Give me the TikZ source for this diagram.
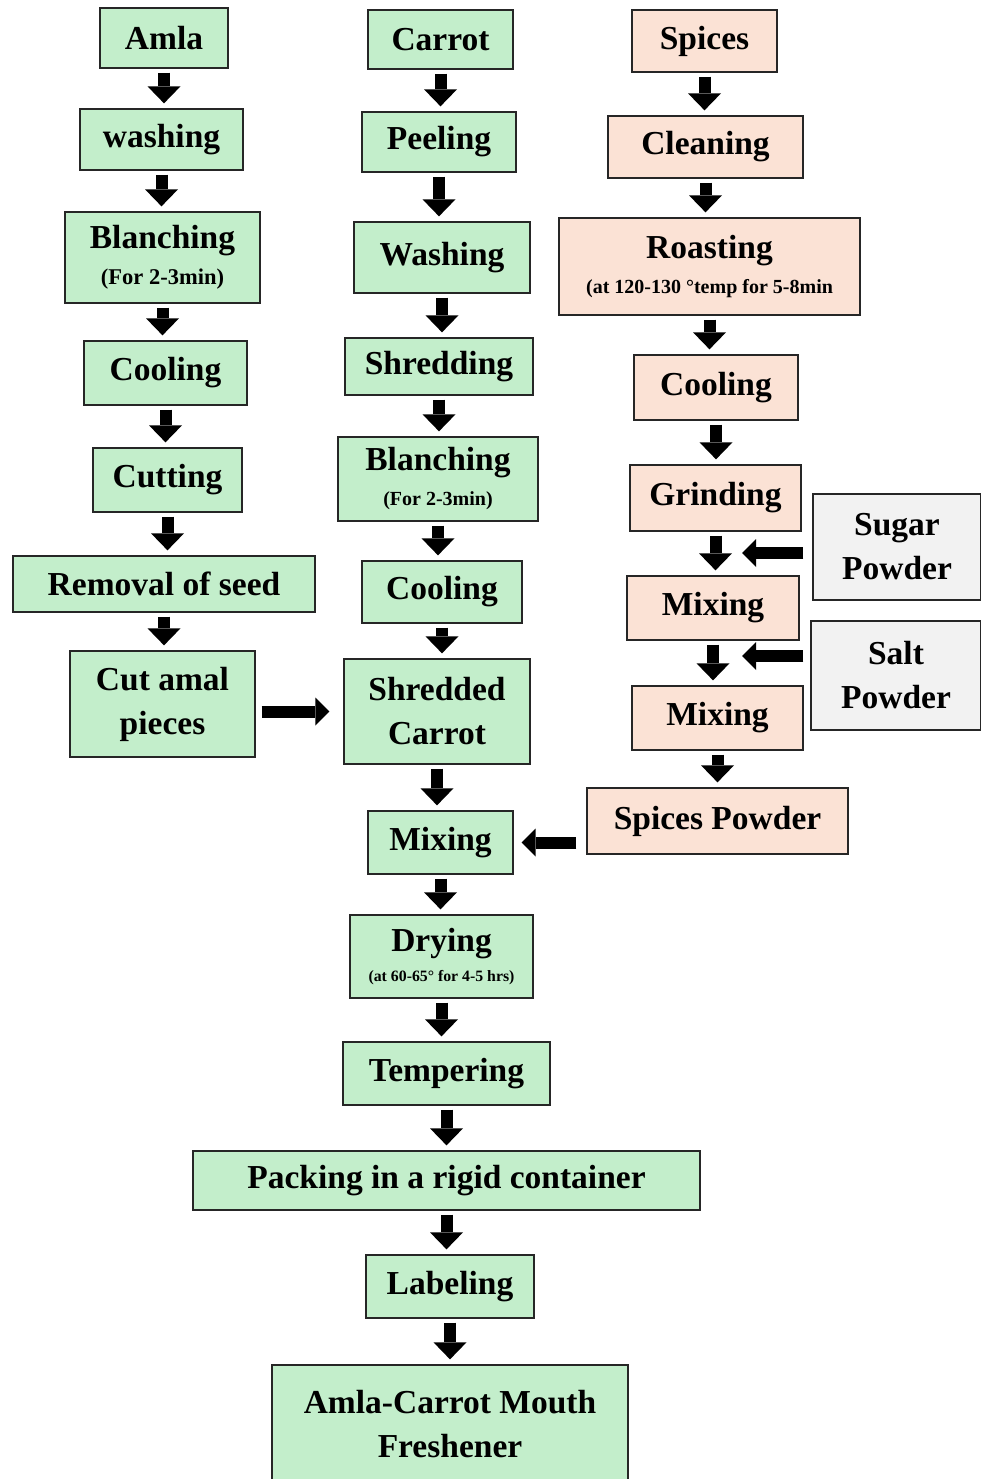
\documentclass[tikz,border=0pt]{standalone}
\usepackage{fontspec}
\setmainfont{Liberation Serif}
\usetikzlibrary{arrows.meta}
\definecolor{gfill}{HTML}{C3EECB}
\definecolor{pfill}{HTML}{FBE2D5}
\definecolor{sfill}{HTML}{F2F2F2}
\begin{document}
\begin{tikzpicture}[x=1pt,y=-1pt,
  box/.style={draw=black!85,line width=1.3pt,inner sep=0pt,align=center,
    font=\bfseries\fontsize{33.5}{44}\selectfont},
  gbox/.style={box,fill=gfill},
  pbox/.style={box,fill=pfill},
  sbox/.style={box,fill=sfill},
  barrow/.style={line width=12pt,-{Triangle[width=33pt,length=17pt,line width=0pt]},
    shorten <=4pt,shorten >=5pt},
  harrow/.style={line width=12pt,-{Triangle[width=28pt,length=14pt,line width=0pt]}}]
\useasboundingbox (0,0) rectangle (981,1479);
\fill[white] (0,0) rectangle (981,1479);
% left column
\node[gbox,minimum width=128,minimum height=60] (amla) at (164,38) {Amla};
\node[gbox,minimum width=163,minimum height=61] (wash1) at (161.5,139.5) {washing};
\node[gbox,minimum width=195,minimum height=91,font=\bfseries\fontsize{33.5}{36}\selectfont] (blanch1) at (162.5,257.5) {Blanching\\{\fontsize{22.5}{24}\selectfont (For 2-3min)}};
\node[gbox,minimum width=163,minimum height=64] (cool1) at (165.5,373) {Cooling};
\node[gbox,minimum width=149,minimum height=64] (cut) at (167.5,480) {Cutting};
\node[gbox,minimum width=302,minimum height=56] (seed) at (164,584) {Removal of seed};
\node[gbox,minimum width=185,minimum height=106] (pieces) at (162.5,704) {Cut amal\\pieces};
% middle column
\node[gbox,minimum width=145,minimum height=59] (carrot) at (440.5,39.5) {Carrot};
\node[gbox,minimum width=154,minimum height=60] (peel) at (439,142) {Peeling};
\node[gbox,minimum width=176,minimum height=71] (wash2) at (442,257.5) {Washing};
\node[gbox,minimum width=188,minimum height=57] (shred) at (439,366.5) {Shredding};
\node[gbox,minimum width=200,minimum height=84,font=\bfseries\fontsize{33.5}{35}\selectfont] (blanch2) at (438,479) {Blanching\\{\fontsize{20}{22}\selectfont (For 2-3min)}};
\node[gbox,minimum width=160,minimum height=62] (cool2) at (442,592) {Cooling};
\node[gbox,minimum width=186,minimum height=105] (shc) at (437,711.5) {Shredded\\Carrot};
\node[gbox,minimum width=145,minimum height=63] (mix) at (440.5,842.5) {Mixing};
\node[gbox,minimum width=183,minimum height=83,font=\bfseries\fontsize{33.5}{30}\selectfont] (dry) at (441.5,956.5) {Drying\\{\fontsize{15.8}{18}\selectfont (at 60-65° for 4-5 hrs)}};
\node[gbox,minimum width=207,minimum height=63] (temp) at (446.5,1073.5) {Tempering};
\node[gbox,minimum width=507,minimum height=59] (pack) at (446.5,1180.5) {Packing in a rigid container};
\node[gbox,minimum width=168,minimum height=63] (label) at (450,1286.5) {Labeling};
\node[gbox,minimum width=356,minimum height=118] (final) at (450,1424) {Amla-Carrot Mouth\\Freshener};
% right column
\node[pbox,minimum width=145,minimum height=62] (spices) at (704.5,41) {Spices};
\node[pbox,minimum width=195,minimum height=62] (clean) at (705.5,147) {Cleaning};
\node[pbox,minimum width=301,minimum height=97,font=\bfseries\fontsize{33.5}{35}\selectfont] (roast) at (709.5,266.5) {Roasting\\{\fontsize{20}{22}\selectfont (at 120-130 °temp for 5-8min}};
\node[pbox,minimum width=164,minimum height=65] (cool3) at (716,387.5) {Cooling};
\node[pbox,minimum width=171,minimum height=66] (grind) at (715.5,498) {Grinding};
\node[sbox,minimum width=168,minimum height=106] (sugar) at (897,547) {Sugar\\Powder};
\node[pbox,minimum width=172,minimum height=64] (mixa) at (713,608) {Mixing};
\node[sbox,minimum width=170,minimum height=109] (salt) at (896,675.5) {Salt\\Powder};
\node[pbox,minimum width=171,minimum height=64] (mixb) at (717.5,718) {Mixing};
\node[pbox,minimum width=261,minimum height=66] (spp) at (717.5,821) {Spices Powder};
% vertical arrows
\foreach \a/\b in {amla/wash1,wash1/blanch1,blanch1/cool1,cool1/cut,cut/seed,seed/pieces,
  carrot/peel,peel/wash2,wash2/shred,shred/blanch2,blanch2/cool2,cool2/shc,shc/mix,mix/dry,
  dry/temp,temp/pack,pack/label,label/final,
  spices/clean,clean/roast,roast/cool3,cool3/grind,grind/mixa,mixa/mixb,mixb/spp}
  \draw[barrow] (\a.south) -- (\a.south |- \b.north);
% horizontal arrows
\coordinate (s1) at (742,553);
\coordinate (s2) at (742,656);
\draw[harrow,shorten <=6pt,shorten >=14pt] (pieces.east |- shc.center) -- (shc.west);
\draw[harrow,shorten <=10pt,shorten >=8pt] (mix.east -| spp.west) -- (mix.east);
\draw[harrow,shorten <=9pt] (sugar.west |- s1) -- (s1);
\draw[harrow,shorten <=7pt] (salt.west |- s2) -- (s2);
\end{tikzpicture}
\end{document}
